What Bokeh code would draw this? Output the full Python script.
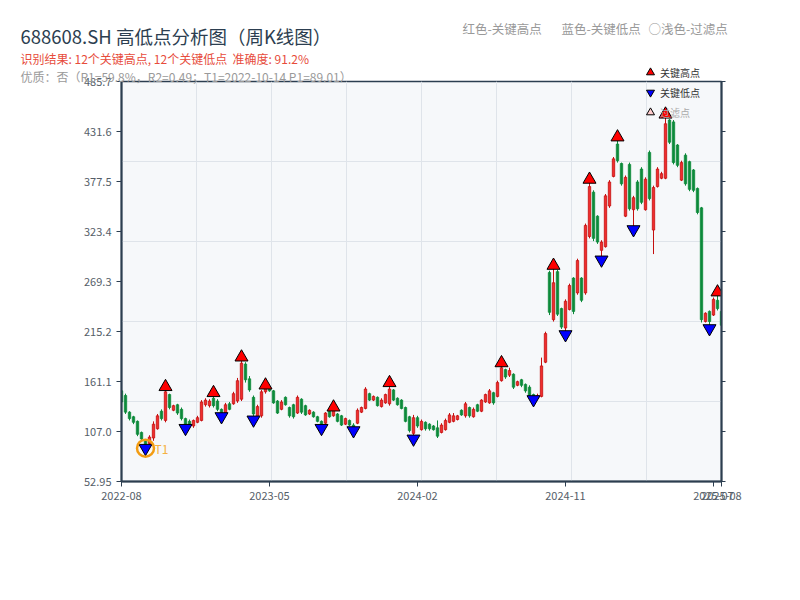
from bokeh.plotting import figure
from bokeh.layouts import column
from bokeh.models import (Range1d, FixedTicker, LinearAxis, Label, Legend,
                          LegendItem, Grid, ColumnDataSource)
from bokeh.embed import file_html
from bokeh.resources import INLINE

FONT = "Noto Sans CJK SC"

# ---------------- data (weekly candles) ----------------
opens = [151, 146, 128, 123, 118, 106, 97, 94, 100, 110,
         129, 119, 147, 130, 136, 131, 121, 118, 113, 117,
         119, 136, 135, 143, 140, 131, 127, 137, 137, 140,
         142, 180, 164, 144, 123, 124, 150, 155, 151, 140,
         131, 144, 133, 136, 127, 142, 135, 126, 128, 123,
         118, 116, 129, 124, 126, 124, 115, 119, 114, 116,
         128, 132, 148, 141, 144, 134, 138, 137, 152, 143,
         141, 133, 123, 105, 122, 109, 117, 115, 113, 111,
         106, 109, 117, 118, 120, 130, 124, 133, 123, 136,
         129, 139, 138, 149, 145, 162, 174, 168, 169, 157,
         163, 158, 155, 147, 143, 145, 182, 279, 228, 280,
         240, 219, 239, 273, 257, 273, 257, 318, 366, 340,
         303, 307, 351, 383, 418, 397, 340, 396, 347, 377,
         391, 347, 409, 325, 372, 381, 381, 444, 442, 417,
         379, 406, 399, 390, 370, 349, 226, 237, 233, 249,
         237]
highs = [153, 148, 129, 124, 119, 107, 98, 103, 118, 126,
         131, 155.4, 148, 136, 137, 133, 122, 120, 120, 124,
         141, 143, 142, 148.9, 142, 132, 138, 139, 150, 165,
         187.4, 182, 167, 146, 136, 152, 157.1, 156, 152, 141,
         141, 145, 134, 137, 146, 143, 136, 131, 129, 124,
         119, 128, 130, 133.3, 127, 125, 122, 120, 116, 132,
         134, 155, 149, 146, 145, 143, 148, 159.7, 153, 144,
         142, 134, 124, 125, 124, 120, 118, 116, 114, 119,
         116, 121, 127, 127, 125, 131, 139, 134, 133, 137,
         142, 148, 153, 150, 162, 181.2, 175, 176, 170, 162,
         164, 159, 157, 148, 148, 187, 215, 281, 286.6, 282,
         241, 250, 267, 274, 294, 274, 332, 379.7, 368, 341,
         314, 364, 379, 404, 425.5, 398, 384, 398, 362, 379,
         393, 382, 411, 373, 393, 388, 450.2, 445, 444, 418,
         400, 408, 400, 391, 371, 350, 236, 238, 252, 257.8,
         238]
lows = [137, 126, 119, 115, 102, 97, 89.01, 93, 97, 109,
        119, 117, 131, 129, 125, 119, 110.6, 112, 111, 116,
        118, 134, 133, 133, 129, 123.3, 126, 130, 136, 138,
        140, 160, 150, 119.7, 121, 122, 148, 150, 137, 126,
        130, 135, 122, 121, 126, 126, 124, 125, 122, 117,
        110.6, 115, 122, 123, 117, 113, 114, 113, 108.1, 115,
        127, 131, 140, 140, 134, 133, 137, 135, 140, 135,
        131, 117, 106, 99.1, 111, 108, 108, 108, 108, 100,
        105, 108, 116, 117, 119, 124, 122, 122, 122, 128,
        128, 138, 137, 136, 144, 161, 164, 166, 153, 156,
        155, 149, 144, 141.7, 142, 144, 181, 233, 226, 232,
        218, 212, 238, 234, 255, 247, 255, 316, 313, 310,
        292.8, 306, 349, 382, 398, 373, 339, 346, 325.6, 346,
        353, 346, 357, 299, 371, 380, 380, 418, 396, 393,
        378, 373, 367, 366, 342, 225, 225, 218.5, 232, 238,
        220]
closes = [139, 128, 121, 117, 104, 99, 93, 101, 115, 124,
          121, 150, 133, 135, 127, 121, 115, 114, 119, 122,
          139, 141, 140, 135, 131, 127, 136, 131, 148, 162,
          181, 163, 152, 126, 134, 150, 154, 151, 138, 127,
          139, 136, 124, 123, 144, 128, 125, 130, 123, 118,
          114, 127, 123, 131, 118, 114, 121, 114, 112, 130,
          133, 153, 141, 145, 135, 141, 147, 153, 141, 136,
          132, 118, 108, 122, 113, 118, 110, 110, 109, 102,
          114, 119, 125, 124, 124, 125, 137, 124, 131, 129,
          141, 147, 151, 138, 160, 176, 166, 173, 155, 161,
          157, 151, 146, 144, 146, 178, 213, 236, 268, 234,
          220, 248, 265, 237, 292, 249, 330, 372, 316, 312,
          312, 362, 377, 402, 400, 375, 382, 348, 360, 348,
          355, 380, 359, 371, 391, 386, 440, 420, 398, 395,
          398, 375, 369, 368, 344, 228, 235, 226, 250, 240,
          222]

high_points = [11, 23, 30, 36, 53, 67, 95, 108, 117, 124, 136, 149]
low_points = [6, 16, 25, 33, 50, 58, 73, 103, 111, 120, 128, 147]
t1_index = 6

x_tick_positions = [0, 37, 74, 111, 148, 150]
x_tick_labels = ["2022-08", "2023-05", "2024-02", "2024-11", "2025-07", "2025-08"]
y_tick_labels = ["52.95", "107.0", "161.1", "215.2", "269.3", "323.4", "377.5", "431.6", "485.7"]

NB = "\u00a0"
title_text = "688608.SH 高低点分析图（周K线图）"
result_text = "识别结果: 12个关键高点, 12个关键低点" + NB * 2 + "准确度: 91.2%"
quality_text = "优质：否（R1=59.8%，R2=0.49；T1=2022-10-14 P1=89.01）"
hint_texts = ["红色-关键高点", "蓝色-关键低点", "○浅色-过滤点"]
legend_labels = ["关键高点", "关键低点", "过滤点"]

# ---------------- layout constants ----------------
FL, FT, FW, FH, FR, FB = 121, 81, 600, 400, 71, 111
W, H = FL + FW + FR, FT + FH + FB
AXIS = "#2c3e50"

# ---------------- derived ----------------
n = len(opens)
xs = list(range(n))
y_min = float(y_tick_labels[0])
y_max = float(y_tick_labels[-1])
n_y = len(y_tick_labels) - 1
y_ticks = [y_min + (y_max - y_min) * k / n_y for k in range(n_y + 1)]
y_over = {t: lab for t, lab in zip(y_ticks, y_tick_labels)}

UP_FILL, UP_LINE = "#f02d2d", "#c40f0f"
DN_FILL, DN_LINE = "#0c8a3a", "#0c8a3a"
up = [c >= o for o, c in zip(opens, closes)]
src = ColumnDataSource(dict(
    x=xs,
    high=highs, low=lows,
    top=[max(o, c) for o, c in zip(opens, closes)],
    bottom=[min(o, c) for o, c in zip(opens, closes)],
    fill=[UP_FILL if u else DN_FILL for u in up],
    line=[UP_LINE if u else DN_LINE for u in up],
))

# ---------------- main chart ----------------
p = figure(frame_width=FW, frame_height=FH,
           min_border_left=FL, min_border_right=FR,
           min_border_top=FT, min_border_bottom=FB,
           x_range=Range1d(0, n - 1), y_range=Range1d(y_min, y_max),
           x_axis_type=None, y_axis_type=None,
           output_backend="svg", toolbar_location=None,
           background_fill_color="#f6f8fa", border_fill_color="white")
p.frame_align = False
p.outline_line_color = AXIS
p.outline_line_width = 1.5

xg = Grid(dimension=0, ticker=FixedTicker(ticks=[(n - 1) * k / 8 for k in range(1, 8)]),
          grid_line_color="#dfe4ea", grid_line_width=1)
yg = Grid(dimension=1, ticker=FixedTicker(ticks=[y_min + (y_max - y_min) * k / 5 for k in range(1, 5)]),
          grid_line_color="#dfe4ea", grid_line_width=1)
p.add_layout(xg)
p.add_layout(yg)


def style_axis(ax):
    ax.axis_line_color = AXIS
    ax.axis_line_width = 2
    ax.major_tick_line_color = AXIS
    ax.major_tick_line_width = 1
    ax.major_tick_out = 5
    ax.major_tick_in = 0
    ax.minor_tick_line_color = None
    ax.major_label_text_font = FONT
    ax.major_label_text_font_size = "11px"
    ax.major_label_text_color = "#555e68"


left = LinearAxis(ticker=FixedTicker(ticks=y_ticks), major_label_overrides=y_over)
style_axis(left)
p.add_layout(left, "left")

right = LinearAxis(ticker=FixedTicker(ticks=y_ticks),
                   major_label_overrides={t: "" for t in y_ticks})
style_axis(right)
right.major_tick_out = 4
p.add_layout(right, "right")

bottom = LinearAxis(ticker=FixedTicker(ticks=x_tick_positions),
                    major_label_overrides={t: lab for t, lab in zip(x_tick_positions, x_tick_labels)})
style_axis(bottom)
p.add_layout(bottom, "below")

# candles
p.segment(x0="x", y0="low", x1="x", y1="high", line_color="line", line_width=1, source=src)
p.vbar(x="x", width=0.6, top="top", bottom="bottom", fill_color="fill",
       line_color="line", line_width=0.8, source=src)

# key points
hi_src = ColumnDataSource(dict(x=high_points, y=[highs[i] for i in high_points]))
lo_src = ColumnDataSource(dict(x=low_points, y=[lows[i] for i in low_points]))
HI_STYLE = dict(marker="triangle", fill_color="#ff0000", line_color="#000000", line_width=1)
LO_STYLE = dict(marker="inverted_triangle", fill_color="#0000ff", line_color="#000000", line_width=1)
FI_STYLE = dict(marker="triangle", fill_color="#ffcccc", line_color="#000000", line_width=1)
p.scatter("x", "y", source=hi_src, size=13, **HI_STYLE)
p.scatter("x", "y", source=lo_src, size=13, **LO_STYLE)

# T1 highlight
p.scatter(x=[t1_index], y=[lows[t1_index]], marker="circle", size=17,
          fill_color=None, line_color="#f39c12", line_width=2.5)
p.add_layout(Label(x=t1_index, y=lows[t1_index], text="T1", x_offset=9,
                   text_baseline="middle", text_font=FONT, text_font_size="12px",
                   text_color="#f5b041"))

# ---------------- transparent header overlay (texts + legend) ----------------
HH = 130
hdr = figure(width=W, height=HH, x_range=Range1d(0, W), y_range=Range1d(HH, 0),
             x_axis_type=None, y_axis_type=None, min_border_left=0, min_border_right=0,
             min_border_top=0, min_border_bottom=0,
             output_backend="svg", toolbar_location=None,
             background_fill_alpha=0, border_fill_alpha=0)
hdr.frame_align = False
hdr.outline_line_color = None
hdr.margin = (-H, 0, 0, 0)


def hlab(x, y, text, size, color):
    hdr.add_layout(Label(x=x, y=y, text=text, text_font=FONT, text_font_size=size,
                         text_color=color, text_align="left", text_baseline="middle"))


hlab(20, 35, title_text, "18.5px", "#2c3e50")
hlab(20, 58, result_text, "12px", "#e74c3c")
hlab(20, 76, quality_text, "12px", "#9a9a9a")
hlab(462, 28, hint_texts[0], "12.5px", "#999999")
hlab(561, 28, hint_texts[1], "12.5px", "#999999")
hlab(648, 28, hint_texts[2], "12.5px", "#999999")

# legend sample glyphs: a single point placed off-canvas, used only by the legend
off = dict(x=[-100], y=[-100])
g_hi = hdr.scatter(size=13, source=ColumnDataSource(off), **HI_STYLE)
g_lo = hdr.scatter(size=13, source=ColumnDataSource(off), **LO_STYLE)
g_fi = hdr.scatter(size=13, source=ColumnDataSource(off), **FI_STYLE)

LEG = dict(orientation="vertical", glyph_width=20, glyph_height=20, label_height=20,
           spacing=0, padding=0, margin=0, label_standoff=0,
           border_line_color=None, background_fill_alpha=0,
           label_text_font=FONT, label_text_font_size="10px")
leg_a = Legend(items=[LegendItem(label=legend_labels[0], renderers=[g_hi]),
                      LegendItem(label=legend_labels[1], renderers=[g_lo])],
               location=(640, HH - 102), label_text_color="#333333", **LEG)
leg_b = Legend(items=[LegendItem(label=legend_labels[2], renderers=[g_fi])],
               location=(640, HH - 122), label_text_color="#aaaaaa", **LEG)
hdr.add_layout(leg_a)
hdr.add_layout(leg_b)

layout = column(p, hdr, spacing=0)
open("out.html", "w").write(file_html(layout, INLINE))
